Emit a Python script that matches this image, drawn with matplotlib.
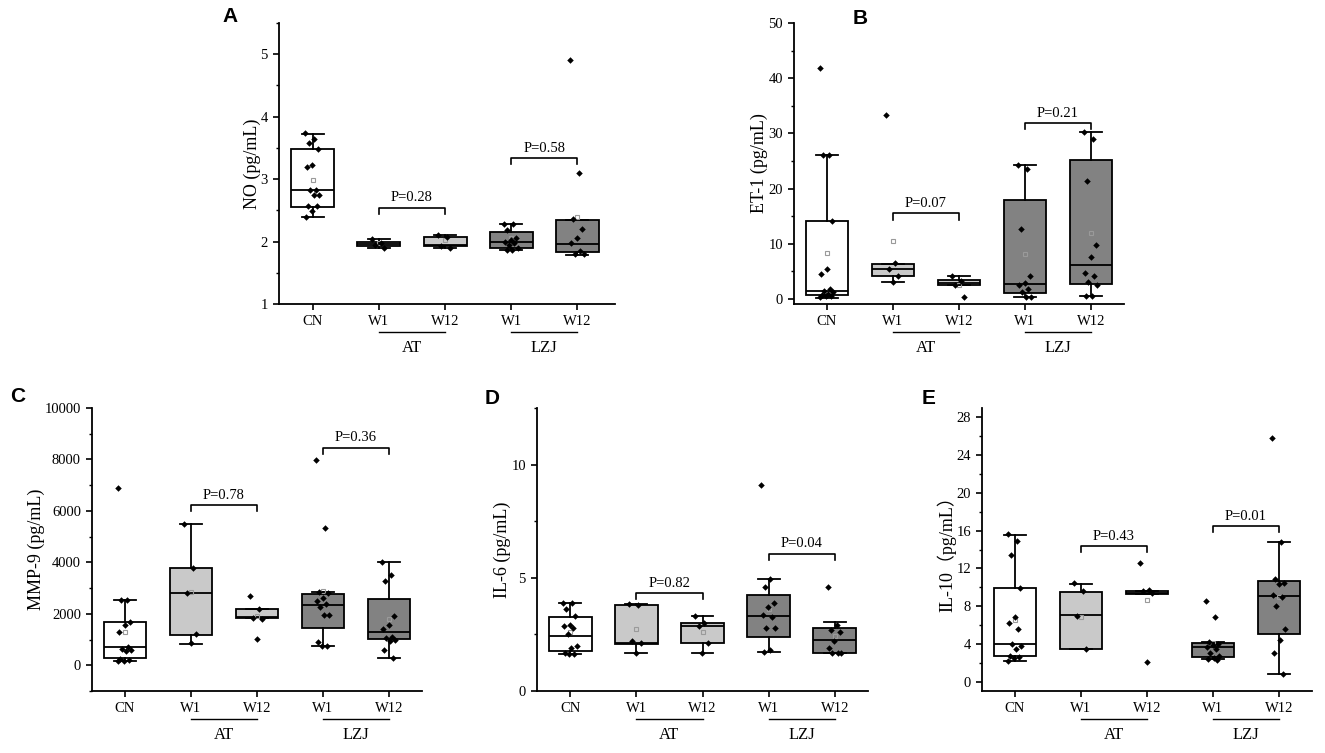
import numpy as np
import matplotlib
matplotlib.use("Agg")
import matplotlib.pyplot as plt
from matplotlib.ticker import MultipleLocator

plt.rcParams['font.family'] = ['Liberation Serif', 'Noto Sans CJK SC', 'DejaVu Sans']

# ---------------- data ----------------
categories = ["CN", "W1", "W12", "W1", "W12"]
subgroups = ["AT", "LZJ"]
box_colors = ["white", "#c9c9c9", "#c9c9c9", "#828282", "#828282"]

# Panel A: NO
no_pts = [
    [3.74, 3.64, 3.58, 3.48, 3.22, 3.19, 2.83, 2.82, 2.75, 2.75, 2.57, 2.57, 2.49, 2.39],
    [2.04, 1.98, 1.95, 1.90],
    [2.10, 2.08, 1.93, 1.90],
    [2.28, 2.28, 2.18, 2.05, 2.03, 2.00, 1.98, 1.95, 1.90, 1.87, 1.87],
    [4.91, 3.09, 2.36, 2.20, 2.05, 1.98, 1.85, 1.80, 1.80],
]
no_q1 = [2.56, 1.93, 1.93, 1.90, 1.83]
no_med = [2.83, 1.96, 1.94, 1.99, 1.96]
no_q3 = [3.48, 2.00, 2.07, 2.16, 2.34]
no_lo = [2.39, 1.90, 1.90, 1.86, 1.79]
no_hi = [3.73, 2.04, 2.10, 2.28, 2.35]
no_mean = [2.99, 1.97, 2.02, 2.05, 2.40]
no_p = ["P=0.28", "P=0.58"]

# Panel B: ET-1
et_pts = [
    [41.8, 26.0, 26.0, 14.2, 5.4, 4.6, 1.8, 1.5, 1.2, 1.0, 0.8, 0.6, 0.5, 0.3],
    [33.3, 6.5, 5.5, 4.2, 3.1],
    [4.1, 3.3, 2.6, 0.4],
    [24.2, 23.6, 12.6, 4.2, 2.9, 2.6, 1.8, 1.3, 0.4, 0.3],
    [30.3, 29.0, 21.3, 9.8, 7.6, 4.8, 4.2, 3.0, 2.5, 0.5, 0.5],
]
et_q1 = [0.66, 4.2, 2.5, 1.1, 2.8]
et_med = [1.4, 5.4, 2.9, 2.8, 6.1]
et_q3 = [14.2, 6.4, 3.4, 18.0, 25.1]
et_lo = [0.1, 3.0, 2.5, 0.3, 0.5]
et_hi = [26.0, 6.4, 4.1, 24.2, 30.3]
et_mean = [8.3, 10.5, 2.6, 8.2, 12.0]
et_p = ["P=0.07", "P=0.21"]

# Panel C: MMP-9
mmp_pts = [
    [6900, 2540, 2520, 1700, 1550, 1300, 700, 650, 600, 550, 250, 200, 150, 150],
    [5500, 3800, 2800, 1200, 850],
    [2710, 2200, 1850, 1800, 1040],
    [7980, 5350, 2840, 2800, 2600, 2500, 2400, 2250, 1950, 1950, 900, 750, 750],
    [4030, 3500, 3270, 1900, 1550, 1400, 1100, 1050, 1000, 950, 600, 300],
]
mmp_q1 = [300, 1185, 1823, 1458, 1003]
mmp_med = [703, 2800, 1860, 2344, 1276]
mmp_q3 = [1667, 3789, 2174, 2773, 2565]
mmp_lo = [156, 846, 1823, 742, 300]
mmp_hi = [2540, 5495, 2174, 2838, 4023]
mmp_mean = [1300, 2830, 1930, 2900, 1800]
mmp_p = ["P=0.78", "P=0.36"]

# Panel D: IL-6
il6_pts = [
    [3.9, 3.9, 3.6, 3.3, 2.9, 2.85, 2.8, 2.5, 2.0, 1.9, 1.7, 1.65, 1.63],
    [3.85, 3.8, 2.2, 2.1, 1.67],
    [3.33, 3.0, 2.85, 2.1, 1.67],
    [9.11, 4.96, 4.6, 3.9, 3.7, 3.35, 3.25, 2.8, 2.8, 1.8, 1.73],
    [4.59, 2.9, 2.7, 2.6, 2.2, 1.9, 1.66, 1.66, 1.66],
]
il6_q1 = [1.78, 2.07, 2.12, 2.37, 1.66]
il6_med = [2.44, 2.12, 2.86, 3.33, 2.25]
il6_q3 = [3.26, 3.78, 3.0, 4.25, 2.77]
il6_lo = [1.63, 1.67, 1.67, 1.73, 1.66]
il6_hi = [3.9, 3.85, 3.33, 4.96, 3.04]
il6_mean = [2.6, 2.74, 2.6, 3.6, 2.44]
il6_p = ["P=0.82", "P=0.04"]

# Panel E: IL-10
il10_pts = [
    [15.6, 14.9, 13.45, 9.9, 6.8, 6.2, 5.54, 4.0, 3.8, 3.5, 2.7, 2.6, 2.5, 2.2],
    [10.4, 9.6, 7.0, 3.4],
    [12.56, 9.7, 9.6, 9.4, 2.09],
    [8.59, 6.81, 4.2, 4.0, 3.9, 3.7, 3.5, 3.0, 2.7, 2.5, 2.4, 2.3],
    [25.8, 14.8, 10.9, 10.5, 10.3, 9.2, 9.0, 8.0, 5.6, 4.4, 3.0, 0.8],
]
il10_q1 = [2.73, 3.44, 9.26, 2.63, 5.04]
il10_med = [3.97, 7.03, 9.37, 3.69, 9.08]
il10_q3 = [9.87, 9.47, 9.62, 4.05, 10.65]
il10_lo = [2.2, 3.44, 9.26, 2.34, 0.78]
il10_hi = [15.5, 10.36, 9.62, 4.22, 14.76]
il10_mean = [6.53, 6.8, 8.66, 4.1, 9.0]
il10_p = ["P=0.43", "P=0.01"]

# ---------------- figure ----------------
W, H = 1325, 753
fig = plt.figure(figsize=(W / 100, H / 100), dpi=100)


def px_rect(left, right, top, bottom):
    return [left / W, 1 - bottom / H, (right - left) / W, (bottom - top) / H]


def draw_panel(rect, letter, letter_xy, pts, q1, med, q3, lo, hi, means,
               ylim, major, minor, ylabel, pvals, brk_y, xlim=(0.5, 5.5)):
    ax = fig.add_axes(rect)
    pos = np.arange(1, len(categories) + 1)
    stats = []
    for i in range(len(categories)):
        stats.append(dict(med=med[i], q1=q1[i], q3=q3[i], whislo=lo[i],
                          whishi=hi[i], mean=means[i], fliers=[]))
    bp = ax.bxp(stats, positions=pos, widths=0.65, patch_artist=True,
                showmeans=True, showfliers=False, capwidths=0.33,
                boxprops=dict(edgecolor='black', linewidth=1.3),
                medianprops=dict(color='black', linewidth=1.3),
                whiskerprops=dict(color='black', linewidth=1.3),
                capprops=dict(color='black', linewidth=1.3),
                meanprops=dict(marker='s', markerfacecolor='none',
                               markeredgecolor='#9a9a9a', markersize=3.5,
                               markeredgewidth=0.8))
    for patch, c in zip(bp['boxes'], box_colors):
        patch.set_facecolor(c)
    for i, vals in enumerate(pts):
        n = len(vals)
        jit = (((np.arange(n) * 0.618) % 1.0) - 0.5) * 0.22
        ax.scatter(pos[i] + jit, vals, marker='D', s=11, color='black',
                   zorder=4, linewidths=0)
    ax.set_xlim(*xlim)
    ax.set_ylim(*ylim)
    ax.yaxis.set_major_locator(MultipleLocator(major))
    ax.yaxis.set_minor_locator(MultipleLocator(minor))
    ax.set_xticks(pos)
    ax.set_xticklabels(categories, fontsize=10.5)
    ax.tick_params(axis='y', labelsize=10.5)
    ax.tick_params(which='major', direction='out', length=4.5, width=1.2)
    ax.tick_params(which='minor', direction='out', length=2.5, width=1.0)
    ax.tick_params(axis='x', which='minor', bottom=False)
    for s in ['top', 'right']:
        ax.spines[s].set_visible(False)
    for s in ['left', 'bottom']:
        ax.spines[s].set_linewidth(1.3)
    ax.set_ylabel(ylabel, fontsize=13, labelpad=0)
    # significance brackets
    yr = ylim[1] - ylim[0]
    drop = 0.022 * yr
    for k, (a, b) in enumerate([(2, 3), (4, 5)]):
        y = brk_y[k]
        ax.plot([a, a, b, b], [y - drop, y, y, y - drop], color='black',
                lw=1.2, zorder=5)
        ax.text((a + b) / 2, y + 0.012 * yr, pvals[k], ha='center',
                va='bottom', fontsize=10.5)
    # group labels
    tr = ax.get_xaxis_transform()
    for k, (a, b) in enumerate([(2, 3), (4, 5)]):
        ax.plot([a, b], [-0.099, -0.099], color='black', lw=1.0,
                transform=tr, clip_on=False)
        ax.text((a + b) / 2, -0.155, subgroups[k], ha='center', va='center',
                fontsize=12, transform=tr)
    fig.text(letter_xy[0] / W, 1 - letter_xy[1] / H, letter,
             family='Liberation Sans', fontweight='bold', fontsize=15,
             ha='center', va='center')
    return ax


draw_panel(px_rect(279, 615, 23, 304), "A", (230, 16), no_pts, no_q1, no_med,
           no_q3, no_lo, no_hi, no_mean, (1, 5.5), 1, 0.5, "NO (pg/mL)",
           no_p, [2.54, 3.34], xlim=(0.49, 5.57))
draw_panel(px_rect(794, 1124, 23, 304), "B", (860, 18), et_pts, et_q1, et_med,
           et_q3, et_lo, et_hi, et_mean, (-0.9, 50), 10, 5, "ET-1 (pg/mL)",
           et_p, [15.5, 31.9])
draw_panel(px_rect(92, 422, 408, 691), "C", (18, 397), mmp_pts, mmp_q1,
           mmp_med, mmp_q3, mmp_lo, mmp_hi, mmp_mean, (-1000, 10000), 2000,
           1000, "MMP-9 (pg/mL)", mmp_p, [6224, 8450])
draw_panel(px_rect(537, 868, 408, 691), "D", (492, 399), il6_pts, il6_q1,
           il6_med, il6_q3, il6_lo, il6_hi, il6_mean, (0, 12.5), 5, 2.5,
           "IL-6 (pg/mL)", il6_p, [4.33, 6.07])
draw_panel(px_rect(982, 1312, 408, 691), "E", (929, 398), il10_pts, il10_q1,
           il10_med, il10_q3, il10_lo, il10_hi, il10_mean, (-1, 29), 4, 2,
           "IL-10（pg/mL）", il10_p, [14.37, 16.5])

fig.savefig("out.png", dpi=100)
